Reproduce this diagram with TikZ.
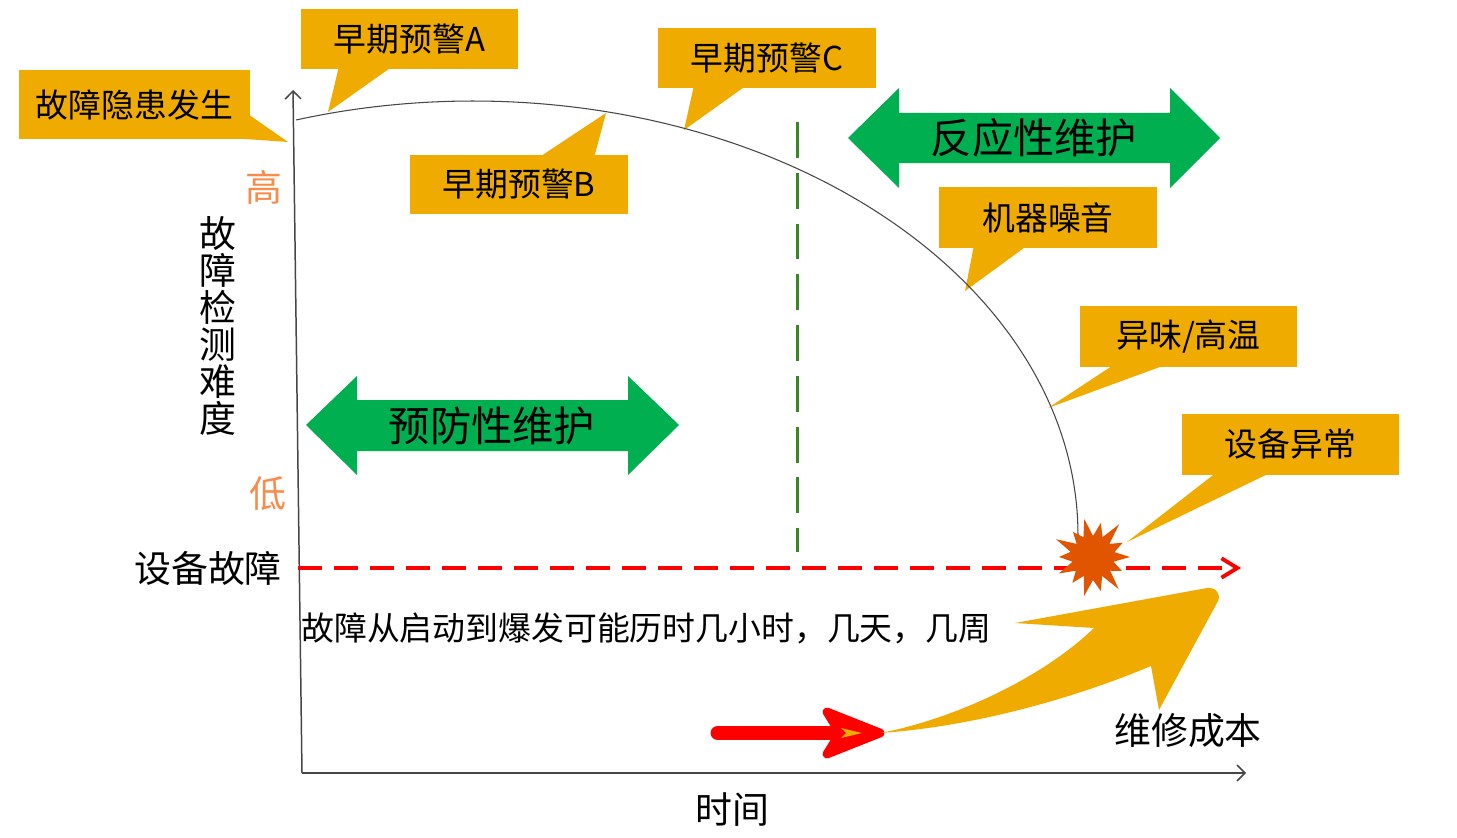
\documentclass[tikz,border=0pt]{standalone}
\usepackage{fontspec}
\setmainfont{Noto Sans CJK SC}
\usetikzlibrary{arrows.meta,calc}
\definecolor{cbox}{RGB}{240,171,0}
\definecolor{cgreen}{RGB}{0,176,80}
\definecolor{cdash}{RGB}{55,135,35}
\definecolor{chilo}{RGB}{248,140,75}
\definecolor{cstar}{RGB}{226,85,0}
\definecolor{caxis}{RGB}{70,70,70}
\begin{document}
\begin{tikzpicture}[x=0.02cm,y=-0.02cm,
  fbox/.style={font=\fontsize{18.7pt}{22pt}\selectfont, inner sep=0pt},
  fbig/.style={font=\fontsize{23.5pt}{26pt}\selectfont, inner sep=0pt},
  flab/.style={font=\fontsize{21pt}{24pt}\selectfont, inner sep=0pt},
  tail/.style={fill=cbox},
  boxfill/.style={fill=cbox},
  dbl/.style={fill=cgreen},
  axisline/.style={draw=caxis, line width=0.85pt, -{Straight Barb[length=4.5pt,width=9pt]}}]
\useasboundingbox (0,0) rectangle (1457,838);
\fill[white] (0,0) rectangle (1457,838);

% axes
\coordinate (O) at (302,773);
\coordinate (ytop) at (293,90);
\coordinate (xend) at (1246,773);
\draw[axisline] (O) -- (ytop);
\draw[axisline] (O) -- (xend);

% green dashed vertical line
\coordinate (g1) at (797,122);
\coordinate (g2) at (797,552);
\draw[cdash, line width=1.7pt, dash pattern=on 20.4pt off 8.5pt] (g1) -- (g2);

% callout tails
\fill[tail] (245,112) -- (288,142) -- (245,139) -- cycle;
\fill[tail] (339,66) -- (328,112) -- (393,66) -- cycle;
\fill[tail] (538,158) -- (606,113) -- (594,158) -- cycle;
\fill[tail] (694,85) -- (684,130) -- (747,85) -- cycle;
\fill[tail] (974,245) -- (965,291) -- (1028,245) -- cycle;
\fill[tail] (1115,364) -- (1048,408) -- (1168,364) -- cycle;
\fill[tail] (1217,472) -- (1127,542) -- (1272,472) -- cycle;

% callout boxes
\fill[boxfill] (19,70) rectangle (250,139);
\fill[boxfill] (301,9) rectangle (518,69);
\fill[boxfill] (410,155) rectangle (628,214);
\fill[boxfill] (658,28) rectangle (876,88);
\fill[boxfill] (939,187) rectangle (1157,248);
\fill[boxfill] (1080,306) rectangle (1297,367);
\fill[boxfill] (1182,414) rectangle (1399,475);

% curve (elliptic arc)
\draw[caxis, line width=0.6pt] plot[domain=107:0, samples=80, smooth] ({473+605*cos(\x)},{535-434*sin(\x)});

% red dashed line
\coordinate (r1) at (298,568);
\coordinate (r2) at (1241,568);
\draw[red, line width=2.2pt, dash pattern=on 13.5pt off 7pt, -{Straight Barb[length=9pt,width=11pt]}] (r1) -- (r2);

% starburst
\coordinate (sc) at (1093,557);
\fill[cstar] ($(sc)+(0:37)$)
  \foreach \a/\r in {12.9/21,25.7/32,38.6/22,51.4/41,64.3/21,77.1/35,90/23,102.9/40,115.7/21,128.6/33,141.4/22,154.3/38,167.1/21,180/34,192.9/23,205.7/41,218.6/21,231.4/32,244.3/22,257.1/39,270/21,282.9/35,295.7/22,308.6/42,321.4/21,334.3/33,347.1/22}
  { -- ($(sc)+(\a:\r)$) } -- cycle;

% green double arrows
\fill[dbl] (848,138) -- (899,88) -- (899,113) -- (1170,113) -- (1170,88) -- (1220,138) -- (1170,188) -- (1170,163) -- (899,163) -- (899,188) -- cycle;
\fill[dbl] (306,425) -- (357,376) -- (357,400) -- (628,400) -- (628,376) -- (679,425) -- (628,475) -- (628,451) -- (357,451) -- (357,475) -- cycle;

% bottom arrows
\coordinate (ra) at (718,733);
\coordinate (rb) at (830,733);
\coordinate (rt) at (880,733);
\draw[red, line width=8.5pt, line cap=round] (ra) -- (rb);
\fill[red, draw=red, line width=5pt, line join=round] (827,712) -- (rt) -- (827,754) -- (840,733) -- cycle;
\fill[cbox] (841,728) -- (862,733) -- (841,738) -- (846,733) -- cycle;
\fill[cbox] (rt) .. controls (950,720) and (1040,680) .. (1094,628) -- (1015,623) -- (1207,588)
  .. controls (1216,587) and (1221,594) .. (1218,601) -- (1159,710) -- (1151,666)
  .. controls (1070,700) and (970,727) .. (rt) -- cycle;

% texts
\node[fbox] (t1) at (134.5,104.5) {故障隐患发生};
\node[fbox] (tA) at (409.5,39) {早期预警A};
\node[fbox] (tB) at (519,184.5) {早期预警B};
\node[fbox] (tC) at (767,58) {早期预警C};
\node[fbox] (tN) at (1048,217.5) {机器噪音};
\node[fbox] (tW) at (1188.5,336.5) {异味/高温};
\node[fbox] (tE) at (1290.5,444.5) {设备异常};
\node[fbig] (tR) at (1034,138) {反应性维护};
\node[fbig] (tP) at (492,426) {预防性维护};
\node[flab, text=chilo] (hi) at (264,187) {高};
\node[flab, text=chilo] (lo) at (268,494) {低};
\node[flab, align=center, font=\fontsize{21pt}{21pt}\selectfont] (ylab) at (218,326) {故\\障\\检\\测\\难\\度};
\node[flab] (fail) at (208,568) {设备故障};
\node[flab] (time) at (732,810) {时间};
\node[flab] (cost) at (1188,731) {维修成本};
\node[fbox, anchor=west] (sent) at (301,628) {故障从启动到爆发可能历时几小时，几天，几周};
\end{tikzpicture}
\end{document}
